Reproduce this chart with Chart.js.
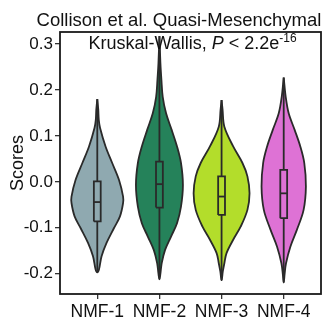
<!DOCTYPE html>
<html>
<head>
<meta charset="utf-8">
<script src="https://cdn.jsdelivr.net/npm/chart.js@4.4.1/dist/chart.umd.min.js"></script>
<style>
  html, body { margin: 0; padding: 0; background: #fff; }
  #wrap { width: 324px; height: 326px; }
</style>
</head>
<body>
<div id="wrap"><canvas id="myChart"></canvas></div>
<script>
const categories = ['NMF-1', 'NMF-2', 'NMF-3', 'NMF-4'];
const colors = ['#8fa9b0', '#25825a', '#b3dd2b', '#de72d5'];
const yTicks = [-0.2, -0.1, 0.0, 0.1, 0.2, 0.3];

// violin outlines: score levels (top to bottom) and half widths
const nmf1Levels = [0.180, 0.157, 0.135, 0.117, 0.077, 0.041, 0.004, -0.032, -0.046, -0.075, -0.101, -0.133, -0.162, -0.191, -0.197];
const nmf1Width  = [0, 0.016, 0.024, 0.045, 0.133, 0.240, 0.350, 0.415, 0.415, 0.365, 0.267, 0.149, 0.069, 0.027, 0];
const nmf2Levels = [0.317, 0.258, 0.222, 0.185, 0.149, 0.113, 0.077, 0.041, -0.007, -0.054, -0.090, -0.119, -0.148, -0.177, -0.212];
const nmf2Width  = [0, 0.016, 0.032, 0.053, 0.107, 0.197, 0.283, 0.347, 0.378, 0.347, 0.283, 0.187, 0.091, 0.037, 0];
const nmf3Levels = [0.178, 0.157, 0.120, 0.077, 0.041, 0.012, -0.025, -0.061, -0.097, -0.126, -0.155, -0.177, -0.195, -0.214];
const nmf3Width  = [0, 0.016, 0.045, 0.187, 0.336, 0.416, 0.450, 0.416, 0.309, 0.187, 0.080, 0.045, 0.020, 0];
const nmf4Levels = [0.227, 0.185, 0.149, 0.113, 0.077, 0.041, -0.010, -0.061, -0.104, -0.141, -0.177, -0.200, -0.219];
const nmf4Width  = [0, 0.032, 0.080, 0.176, 0.267, 0.331, 0.357, 0.320, 0.213, 0.107, 0.037, 0.015, 0];

// box plot stats
const q1          = [-0.086, -0.056, -0.072, -0.079];
const median      = [-0.044, -0.005, -0.032, -0.025];
const q3          = [0.001, 0.044, 0.012, 0.026];
const whiskerLow  = [-0.197, -0.212, -0.214, -0.219];
const whiskerHigh = [0.180, 0.317, 0.178, 0.227];

const levels = [nmf1Levels, nmf2Levels, nmf3Levels, nmf4Levels];
const widths = [nmf1Width, nmf2Width, nmf3Width, nmf4Width];
const boxHalf = 0.055;
const ink = '#2a2a2a';

Chart.defaults.font.family = "'Liberation Sans', Arial, sans-serif";
Chart.defaults.color = '#111';

function violinPoints(i) {
  const c = i + 1, lv = levels[i], w = widths[i];
  const pts = [];
  for (let k = 0; k < lv.length; k++) pts.push({x: c + w[k], y: lv[k]});
  for (let k = lv.length - 2; k >= 0; k--) pts.push({x: c - w[k], y: lv[k]});
  return pts;
}

const datasets = [];
categories.forEach((name, i) => {
  const c = i + 1;
  datasets.push({
    label: name, data: violinPoints(i), showLine: true, fill: 'shape',
    backgroundColor: colors[i], borderColor: ink, borderWidth: 1.8,
    tension: 0.35, pointRadius: 0, order: 2
  });
  datasets.push({
    label: name + ' box', showLine: true, fill: false, borderColor: ink, borderWidth: 1.8,
    pointRadius: 0, tension: 0, order: 1,
    data: [
      {x: c - boxHalf, y: q1[i]}, {x: c + boxHalf, y: q1[i]},
      {x: c + boxHalf, y: q3[i]}, {x: c - boxHalf, y: q3[i]},
      {x: c - boxHalf, y: q1[i]}
    ]
  });
  datasets.push({
    label: name + ' median', showLine: true, borderColor: ink, borderWidth: 1.8,
    pointRadius: 0, order: 1,
    data: [{x: c - boxHalf, y: median[i]}, {x: c + boxHalf, y: median[i]}]
  });
  datasets.push({
    label: name + ' whisker low', showLine: true, borderColor: ink, borderWidth: 1.8,
    pointRadius: 0, order: 1,
    data: [{x: c, y: whiskerLow[i]}, {x: c, y: q1[i]}]
  });
  datasets.push({
    label: name + ' whisker high', showLine: true, borderColor: ink, borderWidth: 1.8,
    pointRadius: 0, order: 1,
    data: [{x: c, y: q3[i]}, {x: c, y: whiskerHigh[i]}]
  });
});

const frameAndTitles = {
  id: 'frameAndTitles',
  afterDraw(chart) {
    const {ctx, chartArea: a} = chart;
    ctx.save();
    ctx.strokeStyle = '#1a1a1a';
    ctx.lineWidth = 1.8;
    ctx.strokeRect(a.left, a.top, a.right - a.left, a.bottom - a.top);

    ctx.fillStyle = '#111';
    ctx.textBaseline = 'alphabetic';
    ctx.font = "18.5px 'Liberation Sans', Arial, sans-serif";
    ctx.textAlign = 'center';
    ctx.fillText('Collison et al. Quasi-Mesenchymal', 179, 26);

    // Kruskal-Wallis, P < 2.2e-16 with italic P and superscript
    ctx.textAlign = 'left';
    const base = "18px 'Liberation Sans', Arial, sans-serif";
    const ital = "italic 18px 'Liberation Sans', Arial, sans-serif";
    const sup = "12px 'Liberation Sans', Arial, sans-serif";
    const parts = [
      {t: 'Kruskal-Wallis, ', f: base, dy: 0},
      {t: 'P', f: ital, dy: 0},
      {t: ' < 2.2e', f: base, dy: 0},
      {t: '-16', f: sup, dy: -7}
    ];
    let total = 0;
    parts.forEach(p => { ctx.font = p.f; p.w = ctx.measureText(p.t).width; total += p.w; });
    let x = (a.left + a.right) / 2 - total / 2 + 2;
    parts.forEach(p => { ctx.font = p.f; ctx.fillText(p.t, x, 49 + p.dy); x += p.w; });
    ctx.restore();
  }
};

new Chart(document.getElementById('myChart'), {
  type: 'scatter',
  data: { datasets },
  options: {
    responsive: true,
    maintainAspectRatio: false,
    animation: false,
    layout: { padding: { top: 32, right: 3, left: 0, bottom: 0 } },
    plugins: { legend: { display: false }, tooltip: { enabled: false }, title: { display: false } },
    scales: {
      x: {
        type: 'linear', min: 0.4, max: 4.6,
        afterBuildTicks: s => { s.ticks = categories.map((_, i) => ({value: i + 1})); },
        afterFit: s => { s.height = 32; },
        ticks: { callback: v => categories[Math.round(v) - 1], font: { size: 17.5 }, color: '#111', padding: 3, maxRotation: 0, autoSkip: false },
        grid: { display: true, drawOnChartArea: false, drawTicks: true, tickLength: 5, color: '#333', lineWidth: 1.3 },
        border: { display: false }
      },
      y: {
        type: 'linear', min: -0.244, max: 0.326,
        afterBuildTicks: s => { s.ticks = yTicks.map(v => ({value: v})); },
        afterFit: s => { s.width = 60; },
        ticks: { callback: v => v.toFixed(1), font: { size: 17 }, color: '#111', padding: 2 },
        grid: { display: true, drawOnChartArea: false, drawTicks: true, tickLength: 5, color: '#333', lineWidth: 1.3 },
        border: { display: false },
        title: { display: true, text: 'Scores', font: { size: 18 }, color: '#111', padding: { top: 7, bottom: 0 } }
      }
    }
  },
  plugins: [frameAndTitles]
});
</script>
</body>
</html>
